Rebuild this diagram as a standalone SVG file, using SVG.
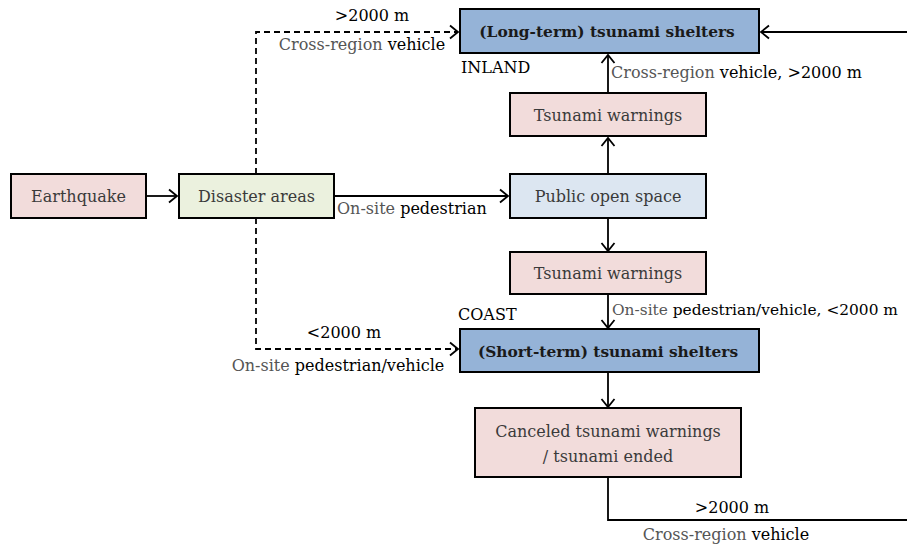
<svg xmlns="http://www.w3.org/2000/svg" width="907" height="547" viewBox="0 0 907 547">
<defs>
<marker id="arr" markerUnits="userSpaceOnUse" markerWidth="14" markerHeight="16" viewBox="-10 -8 12 16" refX="0" refY="0" orient="auto">
<path d="M-8,-6.5 L0,0 L-8,6.5" fill="none" stroke="#000" stroke-width="1.8"/>
</marker>
</defs>
<style>
text{font-family:"DejaVu Serif","Liberation Serif",serif;font-size:16px;fill:#3a3a3a}
.t{text-anchor:middle}
.b{font-weight:bold;fill:#1a1a1a;font-size:15.4px}
.k{fill:#000}
.g{fill:#555}
rect{stroke:#000;stroke-width:2}
.pink{fill:#f2dcdb}
.green{fill:#ebf1de}
.blue{fill:#95b3d7}
.lblue{fill:#dce6f1}
.c{fill:none;stroke:#000;stroke-width:1.8}
.d{stroke-dasharray:6,4}
</style>
<g id="connectors">
<path class="c" d="M147,196 H177" marker-end="url(#arr)"/>
<path class="c d" d="M256,174 V32 H458" marker-end="url(#arr)"/>
<path class="c d" d="M256,218 V349 H458" marker-end="url(#arr)"/>
<path class="c" d="M335,196 H508" marker-end="url(#arr)"/>
<path class="c" d="M608,174 V138" marker-end="url(#arr)"/>
<path class="c" d="M608,93 V55" marker-end="url(#arr)"/>
<path class="c" d="M608,218 V251" marker-end="url(#arr)"/>
<path class="c" d="M608,294 V328" marker-end="url(#arr)"/>
<path class="c" d="M608,372 V407" marker-end="url(#arr)"/>
<path class="c" d="M608,477 V520 H912 V32 H761" marker-end="url(#arr)"/>
<text x="372" y="21" class="t k">&gt;2000 m</text>
<text x="362" y="50" class="t"><tspan class="g">Cross-region</tspan> <tspan class="k">vehicle</tspan></text>
<text x="337" y="214"><tspan class="g">On-site</tspan> <tspan class="k">pedestrian</tspan></text>
<text x="611" y="78"><tspan class="g">Cross-region</tspan> <tspan class="k">vehicle, &gt;2000 m</tspan></text>
<text x="612" y="315" style="font-size:15.4px"><tspan class="g">On-site</tspan> <tspan class="k">pedestrian/vehicle, &lt;2000 m</tspan></text>
<text x="344" y="338" class="t k">&lt;2000 m</text>
<text x="338" y="371" class="t"><tspan class="g">On-site</tspan> <tspan class="k">pedestrian/vehicle</tspan></text>
<text x="732" y="513" class="t k">&gt;2000 m</text>
<text x="726" y="540" class="t"><tspan class="g">Cross-region</tspan> <tspan class="k">vehicle</tspan></text>
<text x="461" y="73" class="k">INLAND</text>
<text x="458" y="320" class="k">COAST</text>
</g>
<g id="earthquake">
<rect class="pink" x="11" y="174" width="135" height="44"/>
<text x="78.5" y="202" class="t">Earthquake</text>
</g>
<g id="disaster-areas">
<rect class="green" x="179" y="174" width="155" height="44"/>
<text x="256.5" y="202" class="t">Disaster areas</text>
</g>
<g id="long-term-shelters">
<rect class="blue" x="460" y="9" width="299" height="44"/>
<text x="607" y="37" class="t b">(Long-term) tsunami shelters</text>
</g>
<g id="tsunami-warnings-upper">
<rect class="pink" x="510" y="93" width="196" height="43"/>
<text x="608" y="121" class="t">Tsunami warnings</text>
</g>
<g id="public-open-space">
<rect class="lblue" x="510" y="174" width="196" height="44"/>
<text x="608" y="202" class="t">Public open space</text>
</g>
<g id="tsunami-warnings-lower">
<rect class="pink" x="510" y="252" width="196" height="42"/>
<text x="608" y="279" class="t">Tsunami warnings</text>
</g>
<g id="short-term-shelters">
<rect class="blue" x="460" y="329" width="299" height="43"/>
<text x="608" y="357" class="t b">(Short-term) tsunami shelters</text>
</g>
<g id="canceled-warnings">
<rect class="pink" x="475" y="408" width="266" height="69"/>
<text x="608" y="437" class="t">Canceled tsunami warnings</text>
<text x="608" y="462" class="t">/ tsunami ended</text>
</g>
</svg>
